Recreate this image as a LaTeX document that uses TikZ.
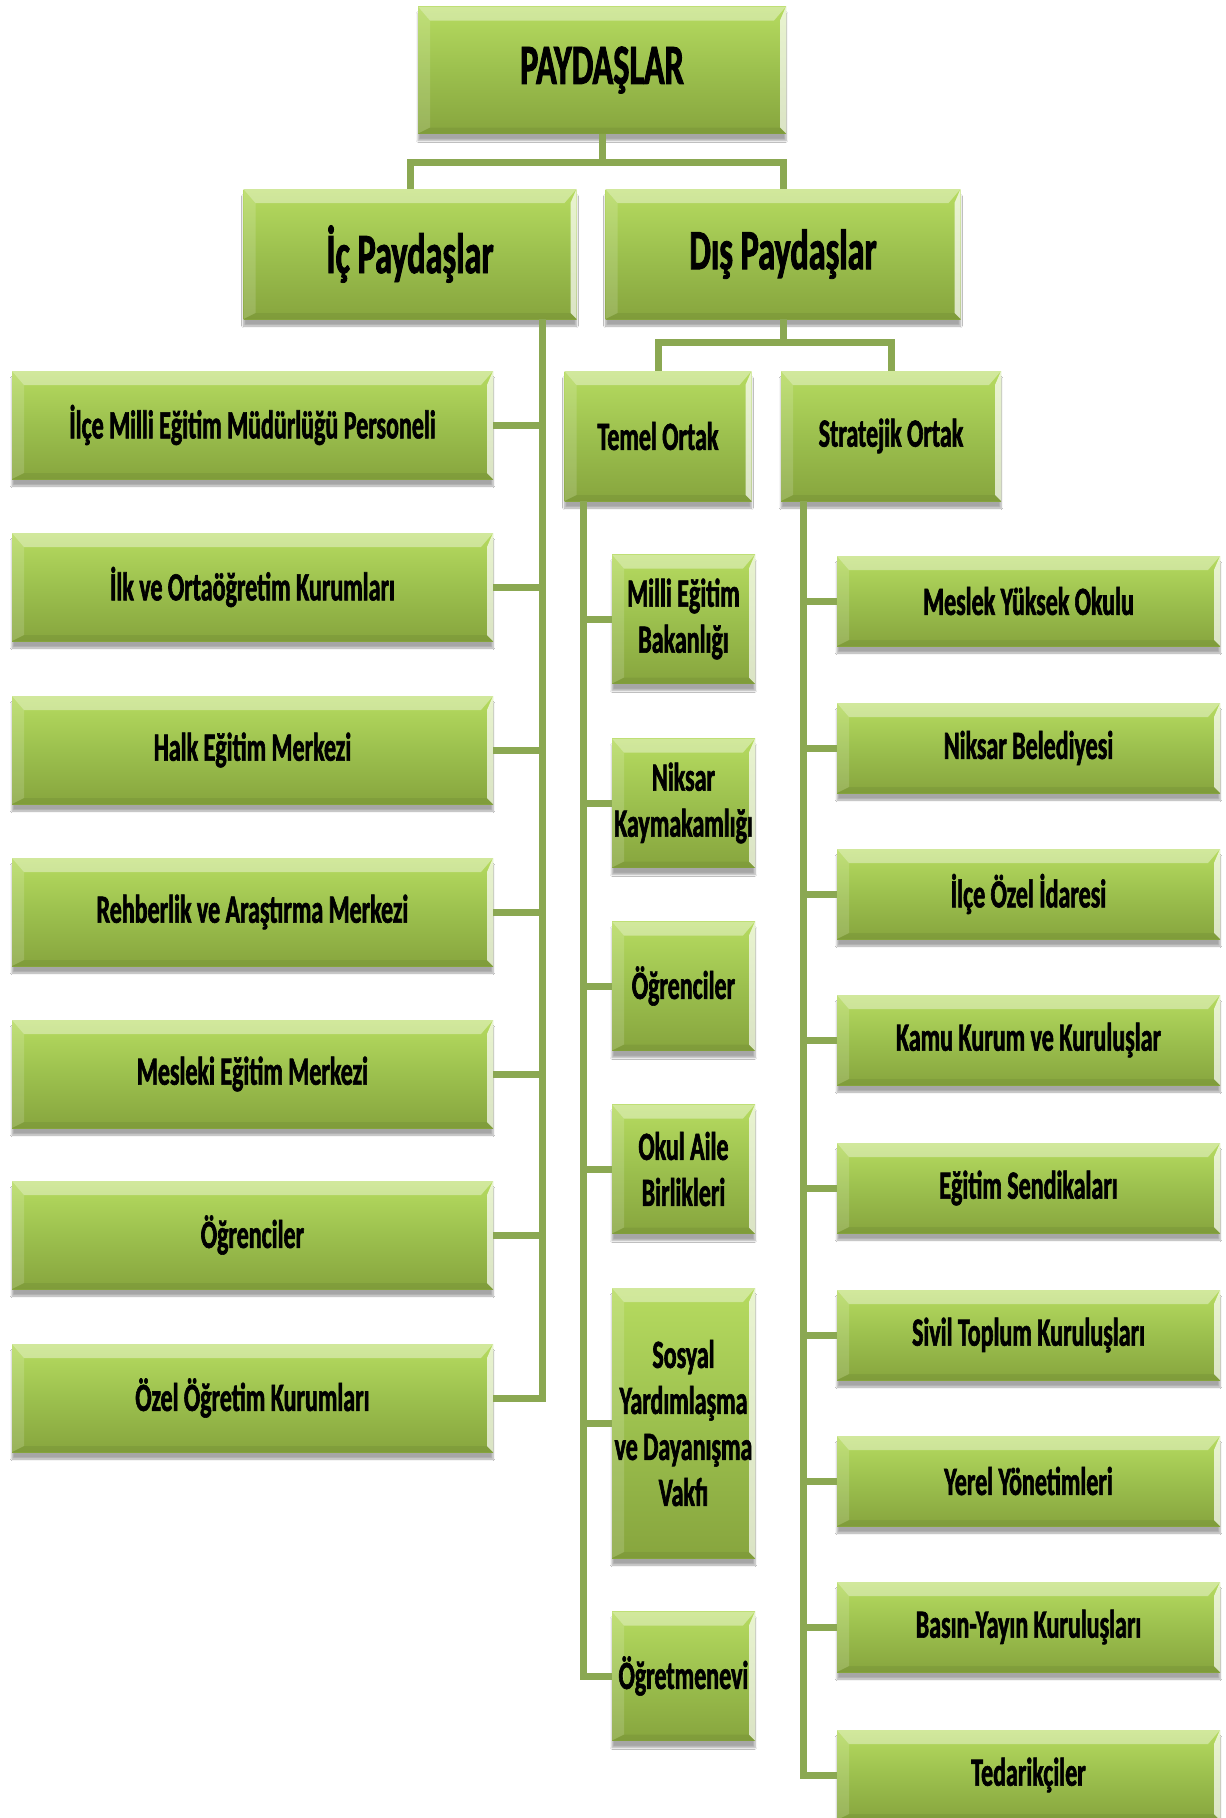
\documentclass[tikz,border=0pt]{standalone}
\usepackage{fontspec}
\setmainfont{Carlito}[FakeStretch=0.6, BoldFeatures={FakeBold=1.5}]
\usetikzlibrary{shadows.blur,calc}
\definecolor{gtop}{HTML}{B6DB60}
\definecolor{gmid}{HTML}{9CC04E}
\definecolor{gbot}{HTML}{87A53E}
\definecolor{conncol}{HTML}{8BA852}
\tikzset{
  bevel/.style={path picture={
    \fill[white,fill opacity=0.38] (path picture bounding box.north west) -- (path picture bounding box.north east) -- ($(path picture bounding box.north east)+(-12,14)$) -- ($(path picture bounding box.north west)+(12,14)$) -- cycle;
    \fill[white,fill opacity=0.15] (path picture bounding box.north west) -- ($(path picture bounding box.north west)+(12,14)$) -- ($(path picture bounding box.south west)+(12,-6)$) -- (path picture bounding box.south west) -- cycle;
    \fill[white,fill opacity=0.7] (path picture bounding box.north east) -- (path picture bounding box.south east) -- ($(path picture bounding box.south east)+(-6,-6)$) -- ($(path picture bounding box.north east)+(-6,14)$) -- cycle;
    \fill[black,fill opacity=0.06] (path picture bounding box.south west) -- (path picture bounding box.south east) -- ($(path picture bounding box.south east)+(-6,-6)$) -- ($(path picture bounding box.south west)+(12,-6)$) -- cycle;
  }},
  box/.style={rectangle, inner sep=0pt, top color=gtop, bottom color=gbot, middle color=gmid,
    blur shadow={shadow xshift=0pt, shadow yshift=-7pt, shadow opacity=35, shadow blur steps=6},
    font=\bfseries\fontsize{40}{46}\selectfont, align=center, bevel},
  bigbox/.style={box, font=\bfseries\fontsize{57}{64}\selectfont},
  lbox/.style={box, minimum width=481pt, minimum height=108pt},
  tbox/.style={box, minimum width=143pt, minimum height=129pt},
  sbox/.style={box, minimum width=383pt, minimum height=90pt},
  conn/.style={draw=conncol, line width=7pt, line join=miter}
}
\begin{document}
\begin{tikzpicture}[x=1pt,y=-1pt]
\useasboundingbox (0,0) rectangle (1226,1818);
\fill[white] (0,0) rectangle (1226,1818);

\node[bigbox, minimum width=368pt, minimum height=127pt] (root) at (602,70) {PAYDAŞLAR};
\node[bigbox, minimum width=333pt, minimum height=130pt] (ic) at (410,254) {İç Paydaşlar};
\node[bigbox, minimum width=355pt, minimum height=130pt] (dis) at (783,254) {Dış Paydaşlar};
\node[box, minimum width=187pt, minimum height=130pt] (temel) at (658,436) {Temel Ortak};
\node[box, minimum width=220pt, minimum height=130pt] (strat) at (891,436) {Stratejik Ortak};

\node[lbox] (L1) at (252.5,425) {İlçe Milli Eğitim Müdürlüğü Personeli};
\node[lbox] (L2) at (252.5,587) {İlk ve Ortaöğretim Kurumları};
\node[lbox] (L3) at (252.5,750) {Halk Eğitim Merkezi};
\node[lbox] (L4) at (252.5,912) {Rehberlik ve Araştırma Merkezi};
\node[lbox] (L5) at (252.5,1074) {Mesleki Eğitim Merkezi};
\node[lbox] (L6) at (252.5,1235) {Öğrenciler};
\node[lbox] (L7) at (252.5,1398) {Özel Öğretim Kurumları};

\node[tbox] (T1) at (683.5,619) {Milli Eğitim\\Bakanlığı};
\node[tbox] (T2) at (683.5,803) {Niksar\\Kaymakamlığı};
\node[tbox] (T3) at (683.5,986) {Öğrenciler};
\node[tbox] (T4) at (683.5,1169) {Okul Aile\\Birlikleri};
\node[tbox, minimum height=270pt] (T5) at (683.5,1423) {Sosyal\\Yardımlaşma\\ve Dayanışma\\Vakfı};
\node[tbox] (T6) at (683.5,1676) {Öğretmenevi};

\node[sbox] (S1) at (1028.5,601) {Meslek Yüksek Okulu};
\node[sbox] (S2) at (1028.5,748) {Niksar Belediyesi};
\node[sbox] (S3) at (1028.5,894) {İlçe Özel İdaresi};
\node[sbox] (S4) at (1028.5,1040) {Kamu Kurum ve Kuruluşlar};
\node[sbox] (S5) at (1028.5,1188) {Eğitim Sendikaları};
\node[sbox] (S6) at (1028.5,1335) {Sivil Toplum Kuruluşları};
\node[sbox] (S7) at (1028.5,1481) {Yerel Yönetimleri};
\node[sbox] (S8) at (1028.5,1627) {Basın-Yayın Kuruluşları};
\node[sbox] (S9) at (1028.5,1775) {Tedarikçiler};

\coordinate (j1) at (602,162);
\coordinate (j2) at (783,342);
\coordinate (icbus) at (542,0);
\coordinate (tbus) at (583,0);
\coordinate (sbus) at (803,0);

\draw[conn] (root.south) -- (j1);
\draw[conn] (ic.north) |- (j1) -| (dis.north);
\draw[conn] (dis.south) -- (j2);
\draw[conn] (temel.north) |- (j2) -| (strat.north);

\draw[conn] (ic.south -| icbus) |- (L7.east);
\foreach \n in {L1,L2,L3,L4,L5,L6} \draw[conn] (\n.east) -- (\n.east -| icbus);

\draw[conn] (temel.south -| tbus) |- (T6.west);
\foreach \n in {T1,T2,T3,T4,T5} \draw[conn] (\n.west) -- (\n.west -| tbus);

\draw[conn] (strat.south -| sbus) |- (S9.west);
\foreach \n in {S1,S2,S3,S4,S5,S6,S7,S8} \draw[conn] (\n.west) -- (\n.west -| sbus);
\end{tikzpicture}
\end{document}
